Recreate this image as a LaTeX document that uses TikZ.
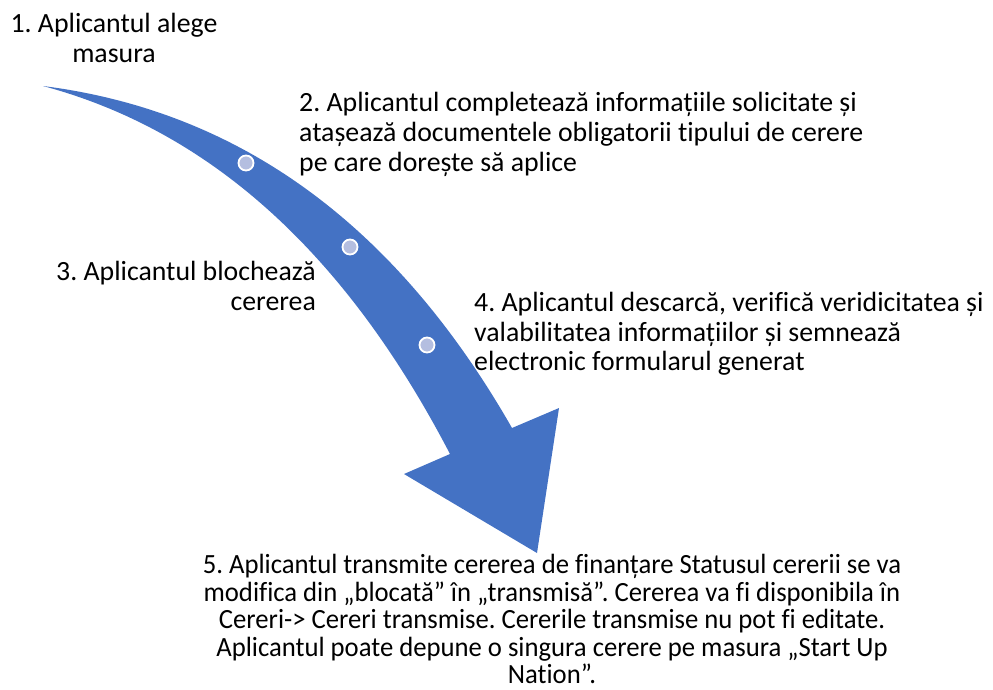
\documentclass[tikz,border=0pt]{standalone}
\usepackage{fontspec}
\setmainfont{Carlito}[Ligatures=NoCommon]
\newfontfamily\narrowfont{Carlito}[Ligatures=NoCommon,FakeStretch=0.96]
\usetikzlibrary{positioning}
\definecolor{arrowblue}{RGB}{68,114,196}
\definecolor{dotfill}{RGB}{180,190,224}

\begin{document}
\frenchspacing
\begin{tikzpicture}[x=1pt,y=-1pt,font=\fontsize{27.8}{30}\selectfont,
  steptext/.style={inner sep=0pt,text=black},
  dot/.style={circle,fill=dotfill,draw=white,line width=1.8pt,minimum size=15pt,inner sep=0pt}]
  \useasboundingbox (0,0) rectangle (993,689);
  % ---------------- curved arrow ----------------
  \fill[arrowblue] (43,86) .. controls (240,111) and (396,225) .. (512,428)
    -- (559,408) -- (537,553) -- (404,474) -- (450,454)
    .. controls (346,254) and (211,131) .. (43,86) -- cycle;
  % markers on the shaft
  \node[dot] (dot1) at (246,163) {};
  \node[dot] (dot2) at (350,247) {};
  \node[dot] (dot3) at (427,345) {};
  % ---------------- step labels ----------------
  \node[steptext,anchor=north,align=center] (step1) at (114,13)
    {1. Aplicantul alege\\masura};
  \node[steptext,anchor=north west,align=left] (step2) at (299,92)
    {2. Aplicantul completează informațiile solicitate și\\
     atașează documentele obligatorii tipului de cerere\\
     pe care dorește să aplice};
  \node[steptext,anchor=north east,align=right] (step3) at (316,261)
    {3. Aplicantul blochează\\cererea};
  \node[steptext,anchor=north west,align=left,font=\fontsize{27.8}{29.5}\selectfont] (step4) at (474,292)
    {4. Aplicantul descarcă, verifică veridicitatea și\\
     valabilitatea informațiilor și semnează\\
     electronic formularul generat};
  \node[steptext,anchor=north,align=center,font=\narrowfont\fontsize{27.8}{27.5}\selectfont] (step5) at (552,554)
    {5. Aplicantul transmite cererea de finanțare Statusul cererii se va\\
     modifica din „blocată” în „transmisă”. Cererea va fi disponibila în\\
     Cereri-> Cereri transmise. Cererile transmise nu pot fi editate.\\
     Aplicantul poate depune o singura cerere pe masura „Start Up\\
     Nation”.};
\end{tikzpicture}
\end{document}
